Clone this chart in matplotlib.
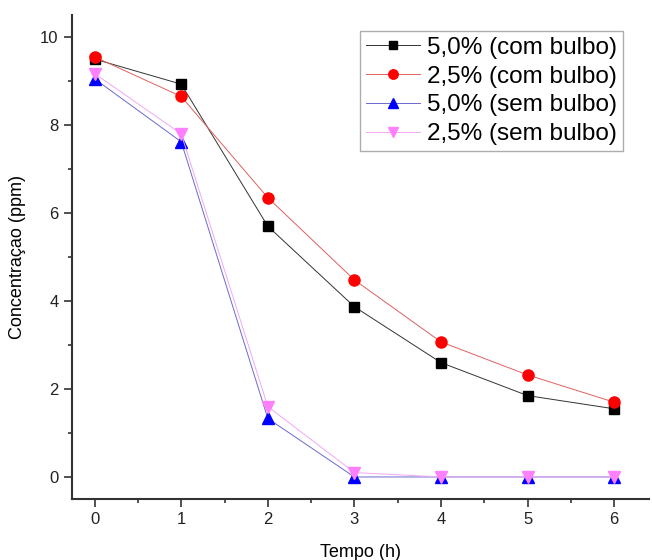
import numpy as np
import matplotlib
matplotlib.use("Agg")
from matplotlib import pyplot as plt
from matplotlib.ticker import MultipleLocator

plt.rcParams['font.family'] = ['Liberation Sans', 'DejaVu Sans']

tempo = [0, 1, 2, 3, 4, 5, 6]
c50_com = [9.5, 8.93, 5.7, 3.87, 2.6, 1.85, 1.55]
c25_com = [9.55, 8.65, 6.35, 4.48, 3.07, 2.32, 1.7]
c50_sem = [9.05, 7.62, 1.33, 0.0, 0.0, 0.0, 0.0]
c25_sem = [9.17, 7.8, 1.6, 0.1, 0.0, 0.0, 0.0]

fig = plt.figure(figsize=(6.52, 5.6), dpi=100)
ax = fig.add_axes([0.110, 0.109, 0.885, 0.864])

ax.plot(tempo, c50_com, color='#333333', lw=0.7, marker='s', ms=7,
        mfc='black', mec='black', label='5,0% (com bulbo)')
ax.plot(tempo, c25_com, color='#e06060', lw=0.7, marker='o', ms=8,
        mfc='red', mec='red', label='2,5% (com bulbo)')
ax.plot(tempo, c50_sem, color='#6a6ad0', lw=0.7, marker='^', ms=8,
        mfc='blue', mec='blue', label='5,0% (sem bulbo)')
ax.plot(tempo, c25_sem, color='#f2a8f2', lw=0.7, marker='v', ms=8,
        mfc='#ff80ff', mec='#ff80ff', label='2,5% (sem bulbo)')

ax.set_xlim(-0.265, 6.4)
ax.set_ylim(-0.5, 10.5)
ax.xaxis.set_major_locator(MultipleLocator(1))
ax.xaxis.set_minor_locator(MultipleLocator(0.5))
ax.yaxis.set_major_locator(MultipleLocator(2))
ax.yaxis.set_minor_locator(MultipleLocator(1))
ax.tick_params(which='major', direction='out', length=6, width=1.2, labelsize=12,
               color='#333333', labelcolor='#222222')
ax.tick_params(which='minor', direction='out', length=3, width=1.2, color='#333333')

for s in ['top', 'right']:
    ax.spines[s].set_visible(False)
for s in ['left', 'bottom']:
    ax.spines[s].set_linewidth(1.5)
    ax.spines[s].set_color('#333333')

ax.set_xlabel('Tempo (h)', fontsize=13, labelpad=12)
ax.set_ylabel('Concentraçao (ppm)', fontsize=13, labelpad=10)

leg = ax.legend(loc='upper right', bbox_to_anchor=(0.964, 0.978), fontsize=17.5,
                frameon=True, fancybox=False, edgecolor='#999999',
                handlelength=2.2, handletextpad=0.3, borderpad=0.25,
                labelspacing=0.28, markerscale=0.85, borderaxespad=0.2)
leg.get_frame().set_linewidth(1.0)

fig.savefig('out.png', dpi=100)
